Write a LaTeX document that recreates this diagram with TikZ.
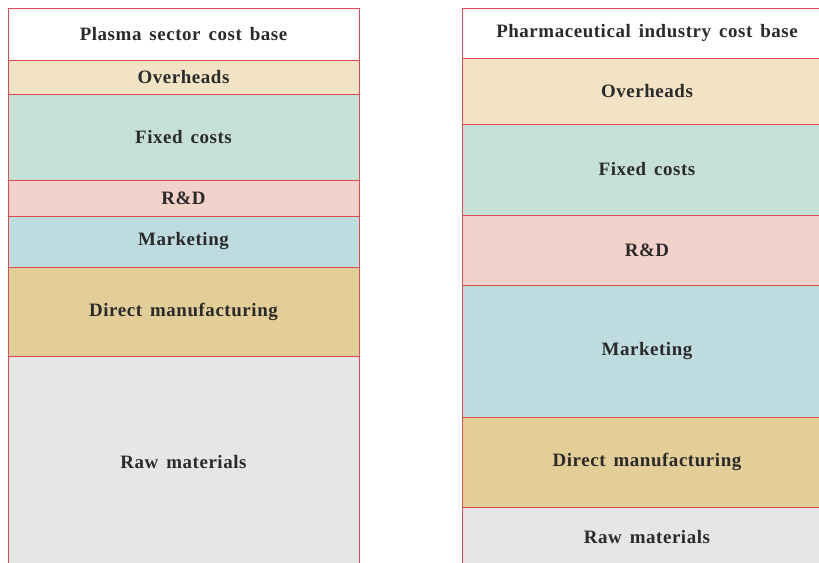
\documentclass[tikz,border=0pt]{standalone}
\usepackage{fontspec}
\setmainfont{Liberation Serif}[LetterSpace=3,WordSpace=1.5]
\definecolor{bordercol}{HTML}{DC4A50}
\definecolor{cOver}{HTML}{F1E3C4}
\definecolor{cFixed}{HTML}{C5E0D6}
\definecolor{cRD}{HTML}{F2D2CA}
\definecolor{cMark}{HTML}{BEDCE0}
\definecolor{cDirect}{HTML}{E3CE97}
\definecolor{cRaw}{HTML}{E5E6E8}
\definecolor{txt}{HTML}{2A2A2A}
\tikzset{
  seg/.style={draw=bordercol, line width=0.9bp, inner sep=0pt, outer sep=0pt,
    font=\fontsize{19}{22}\selectfont\bfseries, text=txt},
}
\begin{document}
\begin{tikzpicture}[x=1bp,y=-1bp]
\useasboundingbox (0,0) rectangle (819,563);
\clip (0,0) rectangle (819,563);
% left column: x 8..359
\node[seg, fill=white,   minimum width=351bp, minimum height=52bp] (lh) at (183.5,34) {Plasma sector cost base};
\node[seg, fill=cOver,   minimum width=351bp, minimum height=34bp] (lo) at (183.5,77) {Overheads};
\node[seg, fill=cFixed,  minimum width=351bp, minimum height=86bp] (lf) at (183.5,137) {Fixed costs};
\node[seg, fill=cRD,     minimum width=351bp, minimum height=36bp] (lr) at (183.5,198) {R\&D};
\node[seg, fill=cMark,   minimum width=351bp, minimum height=51bp] (lm) at (183.5,241.5) {Marketing};
\node[seg, fill=cDirect, minimum width=351bp, minimum height=89bp] (ld) at (183.5,311.5) {Direct manufacturing};
\node[seg, fill=cRaw,    minimum width=351bp, minimum height=212bp] (lw) at (183.5,462) {Raw materials};
% right column: x 462..832
\node[seg, fill=white,   minimum width=370bp, minimum height=50bp] (rh) at (647,33) {Pharmaceutical industry cost base};
\node[seg, fill=cOver,   minimum width=370bp, minimum height=66bp] (ro) at (647,91) {Overheads};
\node[seg, fill=cFixed,  minimum width=370bp, minimum height=91bp] (rf) at (647,169.5) {Fixed costs};
\node[seg, fill=cRD,     minimum width=370bp, minimum height=70bp] (rr) at (647,250) {R\&D};
\node[seg, fill=cMark,   minimum width=370bp, minimum height=132bp] (rm) at (647,351) {Marketing};
\node[seg, fill=cDirect, minimum width=370bp, minimum height=90bp] (rd) at (647,462) {Direct manufacturing};
\node[seg, fill=cRaw,    minimum width=370bp, minimum height=60bp] (rw) at (647,537) {Raw materials};
\end{tikzpicture}
\end{document}
